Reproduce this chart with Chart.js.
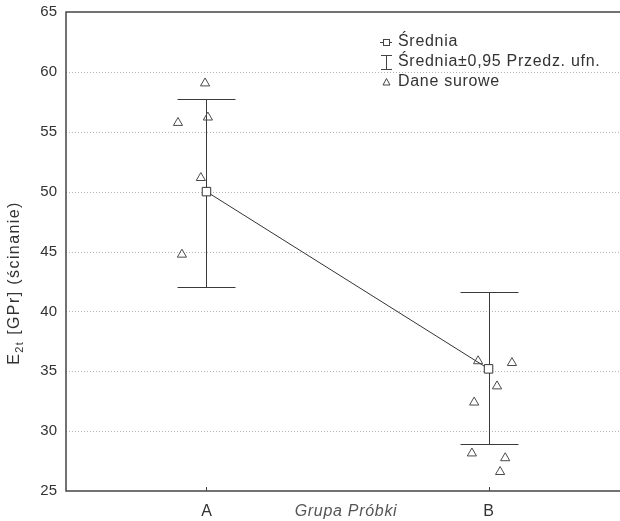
<!DOCTYPE html>
<html>
<head>
<meta charset="utf-8">
<script src="https://cdn.jsdelivr.net/npm/chart.js@4"></script>
<style>
html,body{margin:0;padding:0;background:#fff;}
canvas{display:block;}
</style>
</head>
<body>
<canvas id="c" width="620" height="521"></canvas>
<script>
// ---- data ----
const categories = ['A', 'B'];
const meanValues = [50.0, 35.2];
const ciLower = [42.05, 28.9];
const ciUpper = [57.7, 41.65];
const rawA = [59.05, 55.75, 56.2, 51.15, 44.75];
const rawAJitter = [0.995, 0.899, 1.005, 0.980, 0.913];
const rawB = [35.85, 35.7, 33.75, 32.4, 28.15, 27.75, 26.6];
const rawBJitter = [1.963, 2.083, 2.030, 1.949, 1.941, 2.059, 2.041];
const yTicks = [25, 30, 35, 40, 45, 50, 55, 60, 65];
const legendLabels = ['Średnia', 'Średnia±0,95 Przedz. ufn.', 'Dane surowe'];
const yTitleMain = 'E';
const yTitleSub = '2t';
const yTitleRest = ' [GPr] (ścinanie)';
const xTitle = 'Grupa Próbki';

const FONT = '"Liberation Sans", Arial, sans-serif';

const meanPoints = categories.map((c, i) => ({x: i + 1, y: meanValues[i]}));
const rawPoints = [];
rawA.forEach((v, i) => rawPoints.push({x: rawAJitter[i], y: v}));
rawB.forEach((v, i) => rawPoints.push({x: rawBJitter[i], y: v}));

const decor = {
  id: 'decor',
  beforeDatasetsDraw(chart) {
    const ctx = chart.ctx;
    const xs = chart.scales.x, ys = chart.scales.y;
    const a = chart.chartArea;
    ctx.save();
    // dotted grid
    ctx.strokeStyle = '#b4b4b4';
    ctx.lineWidth = 1;
    ctx.setLineDash([1, 2]);
    yTicks.forEach(t => {
      if (t === ys.min || t === ys.max) return;
      const y = Math.round(ys.getPixelForValue(t)) + 0.5;
      ctx.beginPath(); ctx.moveTo(a.left, y); ctx.lineTo(a.right, y); ctx.stroke();
    });
    ctx.setLineDash([]);
    // axes frame: left, bottom, top
    ctx.strokeStyle = '#444';
    ctx.lineWidth = 1.5;
    ctx.beginPath();
    ctx.moveTo(a.right, a.top); ctx.lineTo(a.left, a.top);
    ctx.lineTo(a.left, a.bottom); ctx.lineTo(a.right, a.bottom);
    ctx.stroke();
    // x ticks (inside)
    ctx.lineWidth = 1;
    categories.forEach((c, i) => {
      const x = Math.round(xs.getPixelForValue(i + 1)) + 0.5;
      ctx.beginPath(); ctx.moveTo(x, a.bottom); ctx.lineTo(x, a.bottom - 4); ctx.stroke();
    });
    // error bars
    ctx.strokeStyle = '#3a3a3a';
    ctx.lineWidth = 1;
    categories.forEach((c, i) => {
      const x = Math.round(xs.getPixelForValue(i + 1)) + 0.5;
      const y1 = Math.round(ys.getPixelForValue(ciUpper[i])) + 0.5;
      const y2 = Math.round(ys.getPixelForValue(ciLower[i])) + 0.5;
      ctx.beginPath();
      ctx.moveTo(x, y1); ctx.lineTo(x, y2);
      ctx.moveTo(x - 29, y1); ctx.lineTo(x + 29, y1);
      ctx.moveTo(x - 29, y2); ctx.lineTo(x + 29, y2);
      ctx.stroke();
    });
    ctx.restore();
  },
  afterDraw(chart) {
    const ctx = chart.ctx;
    ctx.save();
    ctx.letterSpacing = '0.7px';
    // x title on the same row as tick labels
    ctx.fillStyle = '#555';
    ctx.font = 'italic 16px ' + FONT;
    ctx.textAlign = 'center';
    ctx.textBaseline = 'middle';
    ctx.fillText(xTitle, 346, 512);
    ctx.restore();

    // y title rotated with subscript
    ctx.save();
    ctx.letterSpacing = '1.4px';
    ctx.translate(15, 283);
    ctx.rotate(-Math.PI / 2);
    ctx.fillStyle = '#333';
    ctx.textAlign = 'left';
    ctx.textBaseline = 'middle';
    ctx.font = '16px ' + FONT;
    const wMain = ctx.measureText(yTitleMain).width;
    ctx.font = '11px ' + FONT;
    const wSub = ctx.measureText(yTitleSub).width;
    ctx.font = '16px ' + FONT;
    const wRest = ctx.measureText(yTitleRest).width;
    let x0 = -(wMain + wSub + wRest) / 2;
    ctx.fillText(yTitleMain, x0, 0);
    ctx.font = '11px ' + FONT;
    ctx.fillText(yTitleSub, x0 + wMain, 5);
    ctx.font = '16px ' + FONT;
    ctx.fillText(yTitleRest, x0 + wMain + wSub, 0);
    ctx.restore();

    // legend
    ctx.save();
    ctx.letterSpacing = '0.7px';
    const lx = 386, tx = 398, rows = [42, 62, 82];
    ctx.font = '16px ' + FONT;
    ctx.fillStyle = '#333';
    ctx.textBaseline = 'middle';
    ctx.textAlign = 'left';
    legendLabels.forEach((t, i) => ctx.fillText(t, tx, rows[i]));
    ctx.strokeStyle = '#444';
    ctx.lineWidth = 1;
    // mean icon
    ctx.beginPath();
    ctx.moveTo(lx - 6, rows[0] + 0.5); ctx.lineTo(lx + 6, rows[0] + 0.5); ctx.stroke();
    ctx.fillStyle = '#fff';
    ctx.fillRect(lx - 3, rows[0] - 3, 7, 7);
    ctx.strokeRect(lx - 2.5, rows[0] - 2.5, 6, 6);
    // error bar icon
    ctx.beginPath();
    ctx.moveTo(lx + 0.5, rows[1] - 7); ctx.lineTo(lx + 0.5, rows[1] + 7);
    ctx.moveTo(lx - 5, rows[1] - 7 + 0.5); ctx.lineTo(lx + 6, rows[1] - 7 + 0.5);
    ctx.moveTo(lx - 5, rows[1] + 7 + 0.5); ctx.lineTo(lx + 6, rows[1] + 7 + 0.5);
    ctx.stroke();
    // triangle icon
    ctx.beginPath();
    ctx.moveTo(lx + 0.5, rows[2] - 3.5); ctx.lineTo(lx + 4, rows[2] + 3); ctx.lineTo(lx - 3, rows[2] + 3); ctx.closePath();
    ctx.stroke();
    ctx.restore();
  }
};

new Chart(document.getElementById('c'), {
  type: 'scatter',
  data: {
    datasets: [
      {
        label: legendLabels[2],
        data: rawPoints,
        pointStyle: 'triangle',
        pointRadius: 5.3,
        pointBorderWidth: 1,
        pointBorderColor: '#4a4a4a',
        pointBackgroundColor: 'rgba(255,255,255,0)',
        showLine: false,
        order: 2
      },
      {
        label: legendLabels[0],
        data: meanPoints,
        showLine: true,
        borderColor: '#333',
        borderWidth: 1,
        pointStyle: 'rect',
        pointRadius: 6,
        pointBorderWidth: 1,
        pointBorderColor: '#333',
        pointBackgroundColor: '#fff',
        order: 1
      }
    ]
  },
  options: {
    responsive: false,
    animation: false,
    devicePixelRatio: 1,
    layout: {autoPadding: false, padding: {top: 12, right: 0, left: 0, bottom: 0}},
    plugins: {legend: {display: false}, tooltip: {enabled: false}},
    scales: {
      x: {
        type: 'linear',
        min: 0.502,
        max: 2.466,
        afterBuildTicks: s => { s.ticks = categories.map((c, i) => ({value: i + 1})); },
        afterFit: s => { s.height = 30; s.paddingLeft = 0; s.paddingRight = 0; },
        grid: {display: false, drawTicks: false},
        border: {display: false},
        ticks: {
          callback: v => categories[v - 1] || '',
          color: '#333',
          font: {family: FONT, size: 16},
          padding: 11,
          maxRotation: 0,
          autoSkip: false
        }
      },
      y: {
        min: 25,
        max: 65,
        afterBuildTicks: s => { s.ticks = yTicks.map(v => ({value: v})); },
        afterFit: s => { s.width = 66; s.paddingTop = 0; s.paddingBottom = 0; },
        grid: {display: false, drawTicks: false},
        border: {display: false},
        ticks: {
          color: '#333',
          font: {family: FONT, size: 15},
          padding: 9
        }
      }
    }
  },
  plugins: [decor]
});
</script>
</body>
</html>
